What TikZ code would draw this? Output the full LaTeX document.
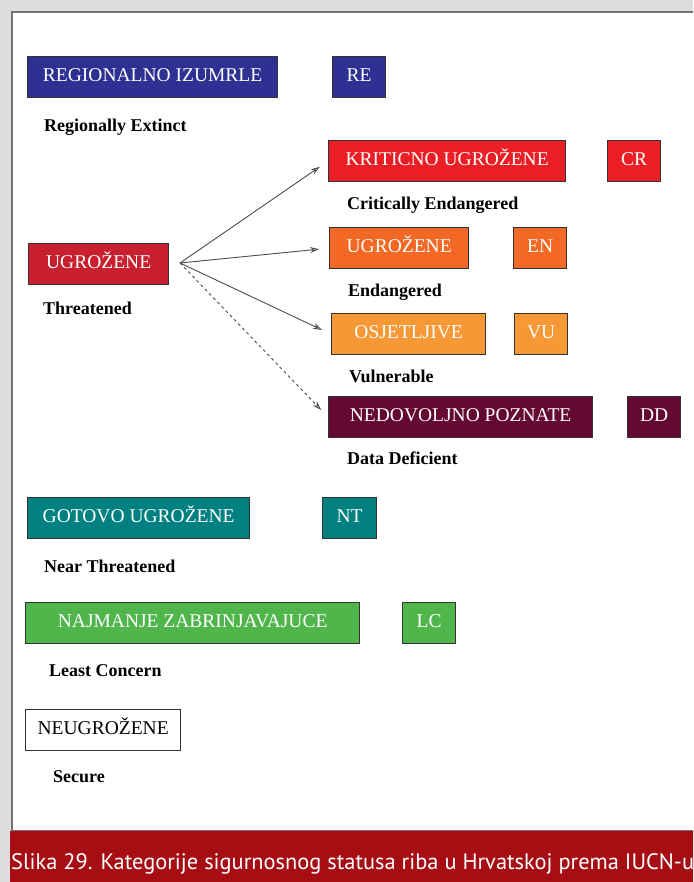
\documentclass[tikz,border=0pt]{standalone}
\usepackage{fontspec}
\setmainfont{Liberation Serif}
\newfontfamily\capfont{PT Sans}
\usetikzlibrary{positioning,arrows.meta}
\definecolor{bggray}{RGB}{220,221,223}
\definecolor{capred}{RGB}{166,14,20}
\definecolor{blueRE}{RGB}{46,49,146}
\definecolor{redUG}{RGB}{200,32,46}
\definecolor{redCR}{RGB}{235,30,38}
\definecolor{orangeEN}{RGB}{242,104,36}
\definecolor{orangeVU}{RGB}{246,152,54}
\definecolor{maroonDD}{RGB}{100,10,50}
\definecolor{tealNT}{RGB}{0,128,128}
\definecolor{greenLC}{RGB}{80,182,76}

\begin{document}
\begin{tikzpicture}[x=1pt,y=-1pt,
  catbox/.style={draw=black!80,line width=1.3pt,minimum height=41pt,text height=13pt,text depth=5pt,
    inner sep=0pt,anchor=north west,text=white,font=\fontsize{19.5}{22}\selectfont},
  engl/.style={anchor=base west,inner sep=0pt,font=\bfseries\fontsize{18}{20}\selectfont},
  tip/.style={-{Stealth[open,length=9pt,width=6pt]},draw=black!70,line width=0.9pt,shorten >=10pt}]
\clip (0,0) rectangle (693,882);
% fond et cadre
\fill[bggray] (0,0) rectangle (693,882);
\draw[draw=black!55,line width=1.5pt,fill=white] (12,12) rectangle (720,831);
\fill[capred] (10,831) rectangle (720,882);
\node[anchor=base west,inner sep=0pt,text=white,font=\capfont\fontsize{22.4}{26}\selectfont] (cap) at (11,869)
  {Slika 29. Kategorije sigurnosnog statusa riba u Hrvatskoj prema IUCN-u};
% categories
\node[catbox,fill=blueRE,minimum width=250pt] (re) at (27,56) {REGIONALNO IZUMRLE};
\node[catbox,fill=blueRE,minimum width=53pt] (reab) at (332,56) {RE};
\node[engl] (rete) at (44,132) {Regionally Extinct};
\node[catbox,fill=redUG,minimum width=140pt] (ug) at (28,243) {UGROŽENE};
\node[engl] (ugte) at (43,314) {Threatened};
\coordinate (fork) at (180,263);
\node[catbox,fill=redCR,minimum width=237pt] (cr) at (328,140) {KRITICNO UGROŽENE};
\node[catbox,fill=redCR,minimum width=53pt] (crab) at (607,140) {CR};
\node[engl] (crte) at (347,210) {Critically Endangered};
\node[catbox,fill=orangeEN,minimum width=139pt] (en) at (329,227) {UGROŽENE};
\node[catbox,fill=orangeEN,minimum width=53pt] (enab) at (513,227) {EN};
\node[engl] (ente) at (348,296) {Endangered};
\node[catbox,fill=orangeVU,minimum width=154pt] (vu) at (331,313) {OSJETLJIVE};
\node[catbox,fill=orangeVU,minimum width=53pt] (vuab) at (514,313) {VU};
\node[engl] (vute) at (349,382) {Vulnerable};
\node[catbox,fill=maroonDD,minimum width=264pt] (dd) at (328,396) {NEDOVOLJNO POZNATE};
\node[catbox,fill=maroonDD,minimum width=53pt] (ddab) at (627,396) {DD};
\node[engl] (ddte) at (347,464) {Data Deficient};
\node[catbox,fill=tealNT,minimum width=222pt] (nt) at (27,497) {GOTOVO UGROŽENE};
\node[catbox,fill=tealNT,minimum width=54pt] (ntab) at (322,497) {NT};
\node[engl] (ntte) at (44,572) {Near Threatened};
\node[catbox,fill=greenLC,minimum width=334pt] (lc) at (25,602) {NAJMANJE ZABRINJAVAJUCE};
\node[catbox,fill=greenLC,minimum width=53pt] (lcab) at (402,602) {LC};
\node[engl] (lcte) at (49,676) {Least Concern};
\node[catbox,fill=white,text=black,minimum width=155pt] (se) at (25,709) {NEUGROŽENE};
\node[engl] (sete) at (53,782) {Secure};
% fleches
\draw[tip] (fork) -- (cr.west);
\draw[tip] (fork) -- (en.west);
\draw[tip] (fork) -- (vu.west);
\draw[tip,dashed] (fork) -- (dd.west);
\end{tikzpicture}
\end{document}
